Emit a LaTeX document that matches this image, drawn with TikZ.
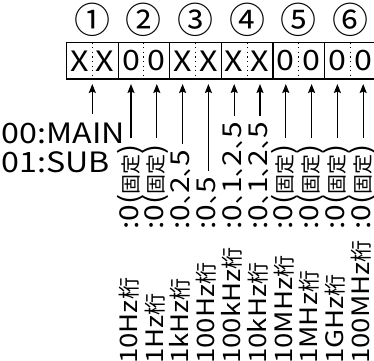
\documentclass[tikz,border=0pt]{standalone}
\usepackage{fontspec}
\setmainfont{Noto Sans CJK JP}
\newfontfamily\lab{Noto Sans CJK JP}[FakeStretch=1.15]
\newfontfamily\kjf{Noto Sans CJK JP}
\usetikzlibrary{arrows.meta}
\newcommand\kS[1]{{\kjf\fontsize{20}{20}\selectfont #1}}
\newcommand\kL[1]{{\kjf\fontsize{22}{22}\selectfont #1}}
\newcommand\tcm{\makebox[11pt][l]{\kjf\fontsize{23}{23}\selectfont 、}}
\tikzset{
  cellbox/.style={draw, line width=1.2pt, minimum width=51.6pt, minimum height=36.5pt,
    inner sep=0pt, outer sep=0pt, anchor=north west},
  digit/.style={font={\lab\fontsize{28}{28}\selectfont}, inner sep=0pt},
  divider/.style={line width=1.1pt, dash pattern=on 1.2pt off 3.4pt},
  arr/.style={line width=1.2pt, -{Stealth[length=9pt,width=7pt,inset=1.5pt]}, shorten >=5pt},
  vtext/.style={rotate=90, anchor=west, inner sep=0pt, text height=20.5pt, text depth=1.4pt,
    font={\lab\fontsize{26}{26}\selectfont}},
  ntext/.style={rotate=90, anchor=west, inner sep=0pt, text height=19pt, text depth=1.4pt,
    font={\lab\fontsize{24}{24}\selectfont}},
  lbl/.style={anchor=base west, inner sep=0pt, font={\lab\fontsize{28}{28}\selectfont}},
  circnum/.style={font={\kjf\fontsize{36}{36}\selectfont}, inner sep=0pt},
}
\begin{document}
\begin{tikzpicture}[x=1pt, y=-1pt]
\useasboundingbox (0,0) rectangle (374,360);
\clip (0,0) rectangle (374,360);
\fill[white] (0,0) rectangle (374,360);
% cells
\foreach \i/\c in {1/①,2/②,3/③,4/④,5/⑤,6/⑥}{
  \node[cellbox] (cell\i) at ({66.5+51.6*(\i-1)},42.5) {};
  \draw[divider] (cell\i.north) -- (cell\i.south);
  \node[circnum] (n\i) at ({66.5+51.6*(\i-1)+25.8},20) {\c};
}
% digits
\foreach \k/\t in {1/X,2/X,3/0,4/0,5/X,6/X,7/X,8/X,9/0,10/0,11/0,12/0}{
  \node[digit] (d\k) at ({66.5+12.9+25.8*(\k-1)},61) {\t};
}
% MAIN / SUB
\node[lbl] (mainlbl) at (1.5,143) {00:MAIN};
\node[lbl] (sublbl) at (1.5,172) {01:SUB};
\draw[arr, shorten <=8pt] (mainlbl.north -| cell1.south) -- (cell1.south);
% digit columns
\foreach \k/\val/\nm in {
  3/{:0(\kS{固定})}/{10Hz\kL{桁}},
  4/{:0(\kS{固定})}/{1Hz\kL{桁}},
  5/{:0\tcm2\tcm5}/{1kHz\kL{桁}},
  6/{:0\tcm5}/{100Hz\kL{桁}},
  7/{:0\tcm1\tcm2\tcm5}/{100kHz\kL{桁}},
  8/{:0\tcm1\tcm2\tcm5}/{10kHz\kL{桁}},
  9/{:0(\kS{固定})}/{10MHz\kL{桁}},
  10/{:0(\kS{固定})}/{1MHz\kL{桁}},
  11/{:0(\kS{固定})}/{1GHz\kL{桁}},
  12/{:0(\kS{固定})}/{100MHz\kL{桁}}}{
  \node[vtext] (v\k) at ({66.5+12.9+25.8*(\k-1)-2.5},230) {\val};
  \node[ntext] (m\k) at ({66.5+12.9+25.8*(\k-1)-2.5},364) {\nm};
  \draw[arr, shorten <=6pt] (v\k.east -| d\k.south) -- (d\k |- cell1.south);
}
\end{tikzpicture}
\end{document}
